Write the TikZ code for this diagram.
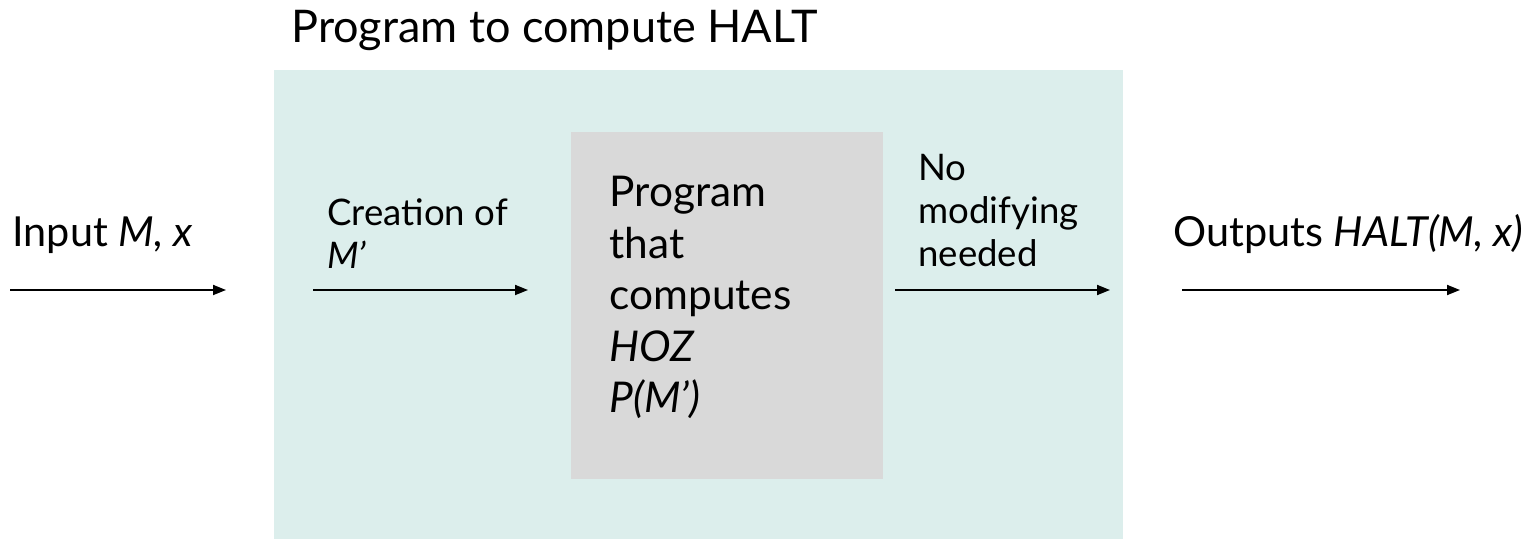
\documentclass[tikz,border=0pt]{standalone}
\usepackage{fontspec}
\setmainfont{Lato}
\usetikzlibrary{arrows.meta}
\definecolor{shell-teal}{HTML}{DCEEEC}
\definecolor{core-grey}{HTML}{D9D9D9}

\tikzset{
    flow/.style={-{Triangle[length=6.5pt, width=5pt]}, line width=0.9pt},
    bigtext/.style={font=\fontsize{20.7}{25}\selectfont, inner sep=0pt},
    boxtext/.style={font=\fontsize{21.2}{25.75}\selectfont, align=left, inner sep=0pt},
    steptext/.style={font=\fontsize{18.3}{21.6}\selectfont, align=left, inner sep=0pt}
}

\begin{document}
\begin{tikzpicture}[x=0.5pt, y=-0.5pt]
    \useasboundingbox (0,0) rectangle (1531,539);

    % the whole program and the part inside it
    \node[fill=shell-teal, inner sep=0pt, anchor=north west,
          minimum width=424.5pt, minimum height=234.5pt] (shell) at (274,70) {};
    \node[fill=core-grey, inner sep=0pt, anchor=north west,
          minimum width=156pt, minimum height=173.5pt] (core) at (571,132) {};

    \node[anchor=base west, inner sep=0pt, font=\fontsize{22.5}{27}\selectfont]
        (title) at (291,43) {Program to compute HALT};

    % multi-line nodes sit on the baseline of their last line
    \node[boxtext, anchor=base west] (coretext) at (609,413)
        {Program\\that\\computes\\\textit{HOZ}\\\textit{P(M’)}};

    \node[bigtext, anchor=base west] (input) at (12,247) {Input \textit{M, x}};
    \node[bigtext, anchor=base west] (output) at (1173,247) {Outputs \textit{HALT(M, x)}};

    \node[steptext, anchor=base west] (create) at (327,269) {Creation of\\\textit{M’}};
    \node[steptext, anchor=base west] (pass) at (918,267) {No\\modifying\\needed};

    % arrows
    \coordinate (in-a) at (10,290);   \coordinate (in-b) at (226,290);
    \coordinate (mk-a) at (313,290);  \coordinate (mk-b) at (528,290);
    \coordinate (pass-a) at (895,290); \coordinate (pass-b) at (1110,290);
    \coordinate (out-a) at (1182,290); \coordinate (out-b) at (1460,290);

    \draw[flow] (in-a) -- (in-b);
    \draw[flow] (mk-a) -- (mk-b);
    \draw[flow] (pass-a) -- (pass-b);
    \draw[flow] (out-a) -- (out-b);
\end{tikzpicture}
\end{document}
